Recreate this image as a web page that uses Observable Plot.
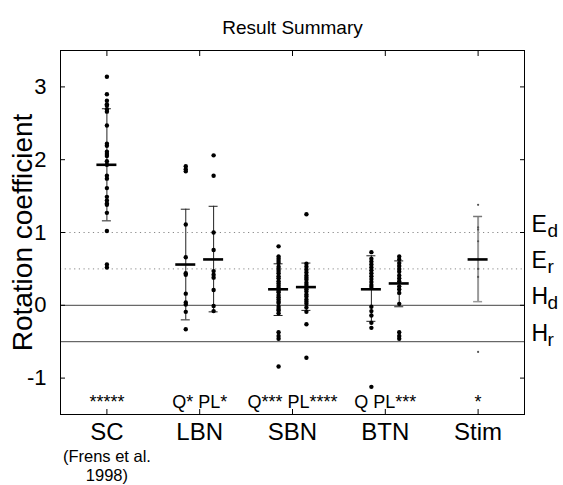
<!DOCTYPE html>
<html><head><meta charset="utf-8">
<script src="https://cdn.jsdelivr.net/npm/d3@7"></script>
<script src="https://cdn.jsdelivr.net/npm/@observablehq/plot@0.6"></script>
<style>body{margin:0;background:#fff}</style>
</head><body><div id="chart"></div>
<script>
const title = "Result Summary";
const yLabel = "Rotation coefficient";
const groups = ["SC", "LBN", "SBN", "BTN", "Stim"];
const yTicks = [-1, 0, 1, 2, 3];

// individual values per series
const scValues = [3.14, 2.90, 2.81, 2.76, 2.74, 2.69, 2.66, 2.47, 2.22, 2.19, 2.11, 2.08, 2.05, 1.98, 1.93, 1.78, 1.74, 1.61, 1.49, 1.44, 1.40, 1.38, 1.27, 1.02, 0.56, 0.52];
const lbnQValues = [1.91, 1.87, 1.84, 1.11, 0.66, 0.44, 0.42, 0.16, 0.04, 0.01, -0.09, -0.33];
const lbnPLValues = [2.06, 1.78, 1.00, 0.76, 0.47, 0.42, 0.38, 0.21, -0.01, -0.08];
const sbnQValues = [0.81, 0.67, 0.64, 0.61, 0.58, 0.53, 0.50, 0.47, 0.44, 0.40, 0.37, 0.33, 0.30, 0.27, 0.24, 0.20, 0.18, 0.14, 0.11, 0.08, 0.05, 0.03, -0.02, -0.05, -0.07, -0.11, -0.37, -0.42, -0.46, -0.84];
const sbnPLValues = [1.25, 0.57, 0.53, 0.49, 0.45, 0.41, 0.38, 0.35, 0.31, 0.28, 0.25, 0.22, 0.19, 0.15, 0.12, 0.08, 0.05, 0.02, -0.03, -0.09, -0.26, -0.72];
const btnQValues = [0.73, 0.64, 0.60, 0.56, 0.52, 0.48, 0.44, 0.40, 0.36, 0.32, 0.28, 0.25, -0.02, -0.08, -0.14, -0.24, -0.31, -1.12];
const btnPLValues = [0.67, 0.63, 0.58, 0.54, 0.50, 0.46, 0.41, 0.37, 0.33, 0.26, 0.22, 0.17, 0.02, -0.37, -0.42, -0.46];
const stimValues = [1.38, 1.07, 1.04, 0.88, 0.50, 0.39, -0.64];

// series descriptors
const seriesGroup = ["SC", "LBN", "LBN", "SBN", "SBN", "BTN", "BTN", "Stim"];
const seriesCond = ["", "Q", "PL", "Q", "PL", "Q", "PL", ""];
const seriesValues = [scValues, lbnQValues, lbnPLValues, sbnQValues, sbnPLValues, btnQValues, btnPLValues, stimValues];
const seriesMean = [1.93, 0.56, 0.63, 0.22, 0.25, 0.22, 0.30, 0.63];
const seriesLow = [1.16, -0.20, -0.09, -0.14, -0.07, -0.22, -0.02, 0.05];
const seriesHigh = [2.70, 1.32, 1.36, 0.57, 0.58, 0.68, 0.61, 1.22];

// significance labels and notes
const sigGroups = ["SC", "LBN", "SBN", "BTN", "Stim"];
const sigTexts = ["*****", "Q* PL*", "Q*** PL****", "Q PL***", "*"];
const noteGroups = ["SC"];
const noteTexts = ["(Frens et al.\n1998)"];

// reference lines
const refValues = [1, 0.5, 0, -0.5];
const refLetters = ["E", "E", "H", "H"];
const refSubs = ["d", "r", "d", "r"];
const refDotted = [true, true, false, false];

const condShift = c => c === "Q" ? -0.15 : c === "PL" ? 0.15 : 0;
const gx = g => groups.indexOf(g) + 1;

const summary = seriesGroup.map((g, i) => ({
  group: g, x: gx(g) + condShift(seriesCond[i]),
  mean: seriesMean[i], lo: seriesLow[i], hi: seriesHigh[i]
}));
const points = seriesGroup.flatMap((g, i) => seriesValues[i].map(v => ({
  group: g, x: gx(g) + condShift(seriesCond[i]), v
})));
const refs = refValues.map((v, i) => ({v, letter: refLetters[i], sub: refSubs[i], dotted: refDotted[i]}));
const sigs = sigGroups.map((g, i) => ({x: gx(g), text: sigTexts[i]}));
const notes = noteGroups.map((g, i) => ({x: gx(g), text: noteTexts[i]}));

const font = "'Liberation Sans', Arial, Helvetica, sans-serif";

const chart = Plot.plot({
  width: 563, height: 485,
  marginLeft: 60, marginRight: 39, marginTop: 50, marginBottom: 71,
  x: {domain: [0.5, 5.5], axis: null},
  y: {domain: [-1.5, 3.5], axis: null},
  style: {fontFamily: font, background: "white", color: "black"},
  marks: [
    Plot.ruleY(refs.filter(d => d.dotted), {y: "v", stroke: "#888", strokeWidth: 1, strokeDasharray: "1.2,3.5"}),
    Plot.ruleY(refs.filter(d => !d.dotted), {y: "v", stroke: "#444", strokeWidth: 1}),
    Plot.frame({stroke: "black", strokeWidth: 1}),
    Plot.axisY(yTicks, {anchor: "left", tickSize: -5, tickPadding: 19, fontSize: 22, tickFormat: d => String(d), label: null}),
    Plot.axisY(yTicks, {anchor: "right", tickSize: -5, tickFormat: () => "", label: null}),
    Plot.axisX(groups.map((g, i) => i + 1), {anchor: "bottom", tickSize: -5, tickPadding: 13, fontSize: 24, tickFormat: i => groups[i - 1], label: null}),
    Plot.axisX(groups.map((g, i) => i + 1), {anchor: "top", tickSize: -5, tickFormat: () => "", label: null}),
    // error bars
    Plot.ruleX(summary.filter(d => d.group !== "Stim"), {x: "x", y1: "lo", y2: "hi", stroke: "#222", strokeWidth: 1}),
    Plot.ruleY(summary.filter(d => d.group !== "Stim"), {y: "lo", x1: "x", x2: "x", insetLeft: -4.5, insetRight: -4.5, stroke: "#222", strokeWidth: 1}),
    Plot.ruleY(summary.filter(d => d.group !== "Stim"), {y: "hi", x1: "x", x2: "x", insetLeft: -4.5, insetRight: -4.5, stroke: "#222", strokeWidth: 1}),
    Plot.ruleX(summary.filter(d => d.group === "Stim"), {x: "x", y1: "lo", y2: "hi", stroke: "#999", strokeWidth: 2}),
    Plot.ruleY(summary.filter(d => d.group === "Stim"), {y: "lo", x1: "x", x2: "x", insetLeft: -4.5, insetRight: -4.5, stroke: "#999", strokeWidth: 1.5}),
    Plot.ruleY(summary.filter(d => d.group === "Stim"), {y: "hi", x1: "x", x2: "x", insetLeft: -4.5, insetRight: -4.5, stroke: "#777", strokeWidth: 1.5}),
    // points
    Plot.dot(points.filter(d => d.group !== "Stim"), {x: "x", y: "v", r: 2.2, fill: "black", stroke: "none"}),
    Plot.dot(points.filter(d => d.group === "Stim"), {x: "x", y: "v", r: 1.1, fill: "#555", stroke: "none"}),
    // means
    Plot.ruleY(summary, {y: "mean", x1: "x", x2: "x", insetLeft: -10, insetRight: -10, stroke: "black", strokeWidth: 2.6}),
    // significance labels
    Plot.text(sigs, {x: "x", text: "text", frameAnchor: "bottom", lineAnchor: "bottom", dy: -7, fontSize: 18}),
    // note under SC
    Plot.text(notes, {x: "x", text: "text", frameAnchor: "bottom", lineAnchor: "top", dy: 34, fontSize: 16.5, lineHeight: 1.15}),
    // reference labels on right
    Plot.text(refs, {y: "v", text: "letter", frameAnchor: "right", textAnchor: "start", lineAnchor: "bottom", dx: 7, dy: -1, fontSize: 23}),
    Plot.text(refs, {y: "v", text: "sub", frameAnchor: "right", textAnchor: "start", lineAnchor: "bottom", dx: 23, dy: 4, fontSize: 19}),
    // y label
    Plot.text([yLabel], {frameAnchor: "left", textAnchor: "middle", rotate: -90, dx: -37, fontSize: 28}),
    // title
    Plot.text([title], {frameAnchor: "top", dy: -30, fontSize: 19})
  ]
});
document.getElementById("chart").append(chart);
</script>
</body></html>
